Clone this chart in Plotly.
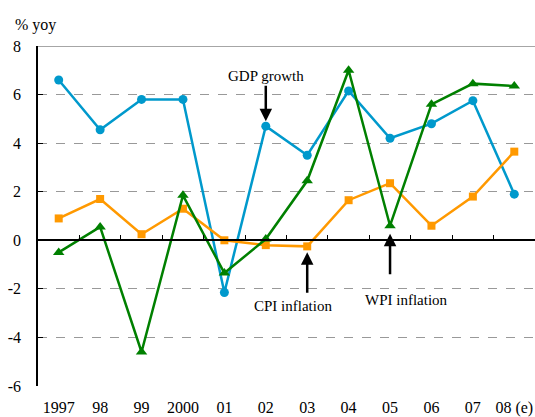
import plotly.graph_objects as go

years = ["1997", "98", "99", "2000", "01", "02", "03", "04", "05", "06", "07", "08 (e)"]
gdp_growth = [6.6, 4.55, 5.8, 5.8, -2.15, 4.7, 3.5, 6.15, 4.2, 4.8, 5.75, 1.9]
cpi_inflation = [0.9, 1.7, 0.25, 1.3, 0.0, -0.2, -0.25, 1.65, 2.35, 0.6, 1.8, 3.65]
wpi_inflation = [-0.5, 0.55, -4.6, 1.85, -1.35, 0.05, 2.45, 7.0, 0.6, 5.6, 6.45, 6.35]
y_ticks = [-6, -4, -2, 0, 2, 4, 6, 8]
y_tick_labels = ["-6", "-4", "-2", "0", "2", "4", "6", "8"]

FONT = "Liberation Serif, Times New Roman, DejaVu Serif, serif"
BLUE = "#0099CC"
ORANGE = "#FF9900"
GREEN = "#008000"

idx = list(range(len(years)))

fig = go.Figure()
fig.add_trace(go.Scatter(x=idx, y=gdp_growth, mode="lines+markers", name="GDP growth",
                         line=dict(color=BLUE, width=2.5),
                         marker=dict(symbol="circle", size=9, color=BLUE)))
fig.add_trace(go.Scatter(x=idx, y=cpi_inflation, mode="lines+markers", name="CPI inflation",
                         line=dict(color=ORANGE, width=2.5),
                         marker=dict(symbol="square", size=8, color=ORANGE)))
fig.add_trace(go.Scatter(x=idx, y=wpi_inflation, mode="lines+markers", name="WPI inflation",
                         line=dict(color=GREEN, width=2.5),
                         marker=dict(symbol="triangle-up", size=10, color=GREEN)))
# invisible trace on the zero-line axis
fig.add_trace(go.Scatter(x=years, y=[None] * len(years), xaxis="x2", showlegend=False, hoverinfo="skip"))

ymin, ymax = -6, 8
zero_pos = (0 - ymin) / (ymax - ymin)

fig.update_layout(
    width=535, height=417,
    margin=dict(l=38, r=0, t=46, b=31),
    paper_bgcolor="white", plot_bgcolor="white",
    showlegend=False,
    font=dict(family=FONT, size=16, color="black"),
    xaxis=dict(range=[-0.5, 11.5], tickvals=idx, ticktext=years, showgrid=False, zeroline=False,
               showline=False, ticks="", tickfont=dict(family=FONT, size=16),
               ticklabelstandoff=10),
    xaxis2=dict(type="category", range=[-0.5, 11.5], overlaying="x", anchor="free",
                position=zero_pos, showgrid=False, zeroline=False, showline=True,
                linecolor="black", linewidth=1.5, ticks="inside", ticklen=5,
                tickcolor="black", tickwidth=1, tickson="boundaries",
                showticklabels=False),
    yaxis=dict(range=[ymin, ymax], tickvals=y_ticks, ticktext=y_tick_labels,
               showgrid=True, gridcolor="#999999", griddash="dash", gridwidth=1,
               zeroline=False, showline=True, linecolor="black", linewidth=1.5,
               ticks="inside", ticklen=5, tickcolor="black",
               tickfont=dict(family=FONT, size=16), ticklabelstandoff=12),
)

# solid top border
fig.add_shape(type="line", xref="paper", yref="y", x0=0, x1=1, y0=ymax, y1=ymax,
              line=dict(color="#888888", width=1.5))

fig.add_annotation(text="% yoy", xref="paper", yref="paper", x=-0.05, y=1.03,
                   xanchor="left", yanchor="bottom", showarrow=False,
                   font=dict(family=FONT, size=16))

i_gdp = years.index("02")
i_cpi = years.index("03")
i_wpi = years.index("05")

fig.add_annotation(text="GDP growth", x=i_gdp, y=gdp_growth[i_gdp], ax=0, ay=-50, xref="x", yref="y",
                   showarrow=True, arrowhead=2, arrowsize=1, arrowwidth=2.5, arrowcolor="black",
                   standoff=5, font=dict(family=FONT, size=15))
fig.add_annotation(text="CPI inflation", x=i_cpi, y=cpi_inflation[i_cpi], xref="x", yref="y",
                   showarrow=False, font=dict(family=FONT, size=15), yshift=-60, xshift=-14)
fig.add_annotation(x=i_cpi, y=cpi_inflation[i_cpi], ax=0, ay=48, xref="x", yref="y", text="",
                   showarrow=True, arrowhead=2, arrowsize=1, arrowwidth=2.5, arrowcolor="black",
                   standoff=6)
fig.add_annotation(text="WPI inflation", x=i_wpi, y=wpi_inflation[i_wpi], xref="x", yref="y",
                   showarrow=False, font=dict(family=FONT, size=15), yshift=-74, xshift=16)
fig.add_annotation(x=i_wpi, y=wpi_inflation[i_wpi], ax=0, ay=50, xref="x", yref="y", text="",
                   showarrow=True, arrowhead=2, arrowsize=1, arrowwidth=2.5, arrowcolor="black",
                   standoff=8)

fig.write_html("out.html", config={"displayModeBar": False},
               post_script="document.body.style.margin='0';")
